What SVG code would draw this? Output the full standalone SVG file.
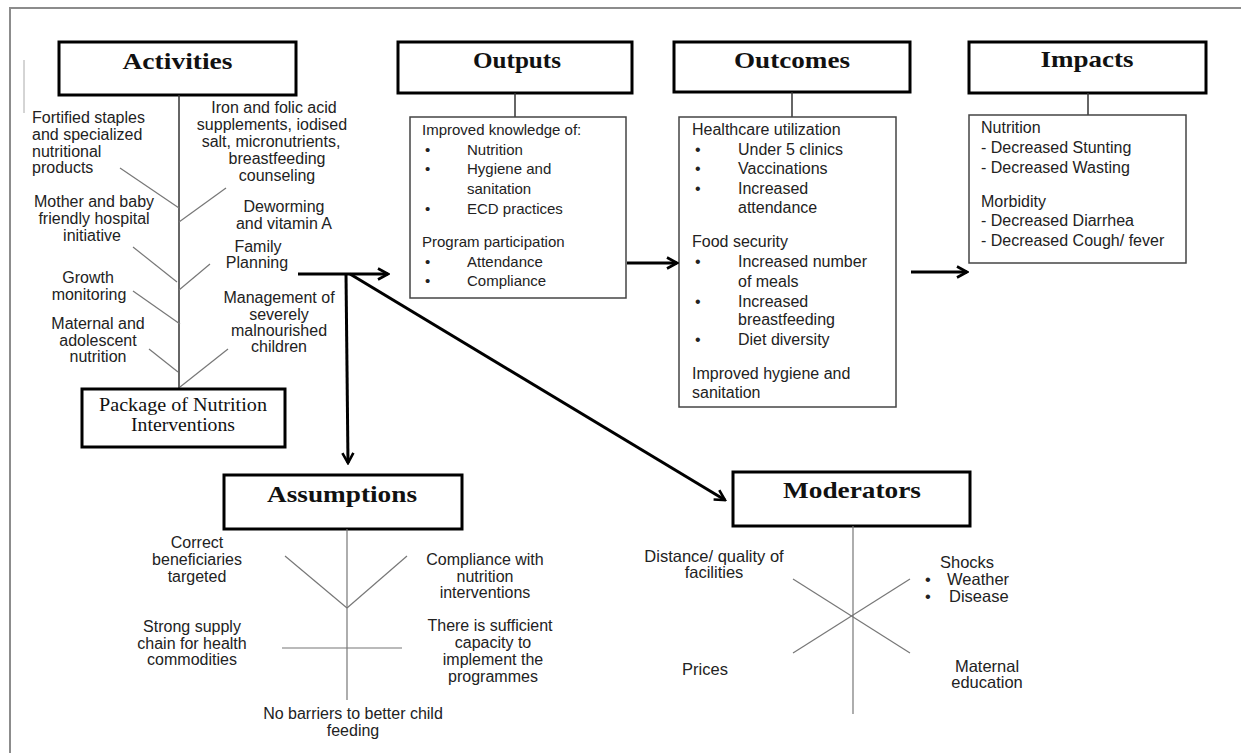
<svg xmlns="http://www.w3.org/2000/svg" width="1241" height="753" viewBox="0 0 1241 753">
<defs>
<style>
.title{font-family:"Liberation Serif","Times New Roman",serif;font-weight:bold;font-size:24px;fill:#111;text-anchor:middle}
.pkg{font-family:"Liberation Serif","Times New Roman",serif;font-size:18px;fill:#111;text-anchor:middle}
.t{font-family:"Liberation Sans",Arial,sans-serif;font-size:16px;fill:#222}
.s15{font-size:15px}
.s165{font-size:16.5px}
.c{text-anchor:middle}
.tbox{fill:#fff;stroke:#000;stroke-width:3}
.cbox{fill:#fff;stroke:#444;stroke-width:1.5}
.stem{stroke:#333;stroke-width:1.5;fill:none}
.br{stroke:#777;stroke-width:1.2;fill:none}
.arrow{stroke:#000;stroke-width:3;fill:none;marker-end:url(#arr)}
</style>
<marker id="arr" viewBox="0 0 14 14" markerWidth="14" markerHeight="14" refX="12" refY="7" orient="auto" markerUnits="userSpaceOnUse">
<path d="M2,1.5 L12,7 L2,12.5" fill="none" stroke="#000" stroke-width="2.6"/>
</marker>
</defs>
<rect width="1241" height="753" fill="#fff"/>
<path d="M10,753 L10,8 L1241,8" fill="none" stroke="#8c8c8c" stroke-width="2"/>
<line x1="24" y1="60" x2="24" y2="113" stroke="#aaa" stroke-width="1"/>

<g id="activities">
<rect class="tbox" x="59" y="42" width="237" height="53"/>
<text class="title" x="177.5" y="69" textLength="110" lengthAdjust="spacingAndGlyphs">Activities</text>
<line class="stem" x1="179" y1="95" x2="179" y2="389"/>
<line class="br" x1="120" y1="168" x2="179" y2="208"/>
<line class="br" x1="226" y1="188" x2="179" y2="222"/>
<line class="br" x1="133" y1="247" x2="177" y2="282"/>
<line class="br" x1="210" y1="264" x2="179" y2="290"/>
<line class="br" x1="133" y1="291" x2="180" y2="324"/>
<line class="br" x1="149" y1="349" x2="178" y2="372"/>
<line class="br" x1="228" y1="349" x2="180" y2="387"/>
<text class="t" x="32" y="123">Fortified staples</text>
<text class="t" x="32" y="140">and specialized</text>
<text class="t" x="32" y="157">nutritional</text>
<text class="t" x="32" y="173">products</text>
<text class="t c" x="94" y="207">Mother and baby</text>
<text class="t c" x="94" y="224">friendly hospital</text>
<text class="t c" x="92" y="241">initiative</text>
<text class="t c" x="88" y="283">Growth</text>
<text class="t c" x="89" y="300">monitoring</text>
<text class="t c" x="98" y="329">Maternal and</text>
<text class="t c" x="98" y="346">adolescent</text>
<text class="t c" x="98" y="362">nutrition</text>
<text class="t c" x="274" y="113">Iron and folic acid</text>
<text class="t c" x="272" y="130">supplements,  iodised</text>
<text class="t c" x="271" y="147">salt, micronutrients,</text>
<text class="t c" x="277" y="164">breastfeeding</text>
<text class="t c" x="277" y="181">counseling</text>
<text class="t c" x="284" y="212">Deworming</text>
<text class="t c" x="284" y="229">and vitamin  A</text>
<text class="t c" x="258" y="252">Family</text>
<text class="t c" x="257" y="268">Planning</text>
<text class="t c" x="279" y="303">Management  of</text>
<text class="t c" x="279" y="320">severely</text>
<text class="t c" x="279" y="336">malnourished</text>
<text class="t c" x="279" y="352">children</text>
</g>

<g id="package">
<rect class="tbox" x="82" y="389" width="203" height="58"/>
<text class="pkg" x="183" y="411" textLength="168" lengthAdjust="spacingAndGlyphs">Package of Nutrition</text>
<text class="pkg" x="183" y="431" textLength="104" lengthAdjust="spacingAndGlyphs">Interventions</text>
</g>

<g id="outputs">
<rect class="tbox" x="398" y="42" width="234" height="51"/>
<text class="title" x="517" y="68" textLength="88" lengthAdjust="spacingAndGlyphs">Outputs</text>
<line class="stem" x1="515" y1="93" x2="515" y2="117"/>
<rect class="cbox" x="410" y="117" width="216" height="181"/>
<text class="t s15" x="422" y="135">Improved knowledge of:</text>
<text class="t s15" x="425" y="155">•</text><text class="t s15" x="467" y="155">Nutrition</text>
<text class="t s15" x="425" y="174">•</text><text class="t s15" x="467" y="174">Hygiene and</text>
<text class="t s15" x="467" y="194">sanitation</text>
<text class="t s15" x="425" y="214">•</text><text class="t s15" x="467" y="214">ECD practices</text>
<text class="t s15" x="422" y="247">Program participation</text>
<text class="t s15" x="425" y="267">•</text><text class="t s15" x="467" y="267">Attendance</text>
<text class="t s15" x="425" y="286">•</text><text class="t s15" x="467" y="286">Compliance</text>
</g>

<g id="outcomes">
<rect class="tbox" x="674" y="42" width="236" height="50"/>
<text class="title" x="792" y="68" textLength="116" lengthAdjust="spacingAndGlyphs">Outcomes</text>
<line class="stem" x1="792" y1="92" x2="792" y2="117"/>
<rect class="cbox" x="679" y="117" width="217" height="290"/>
<text class="t" x="692" y="135">Healthcare  utilization</text>
<text class="t" x="695" y="155">•</text><text class="t" x="738" y="155">Under 5 clinics</text>
<text class="t" x="695" y="174">•</text><text class="t" x="738" y="174">Vaccinations</text>
<text class="t" x="695" y="194">•</text><text class="t" x="738" y="194">Increased</text>
<text class="t" x="738" y="213">attendance</text>
<text class="t" x="692" y="247">Food security</text>
<text class="t" x="695" y="267">•</text><text class="t" x="738" y="267">Increased number</text>
<text class="t" x="738" y="287">of meals</text>
<text class="t" x="695" y="307">•</text><text class="t" x="738" y="307">Increased</text>
<text class="t" x="738" y="325">breastfeeding</text>
<text class="t" x="695" y="345">•</text><text class="t" x="738" y="345">Diet diversity</text>
<text class="t" x="692" y="379">Improved  hygiene and</text>
<text class="t" x="692" y="398">sanitation</text>
</g>

<g id="impacts">
<rect class="tbox" x="969" y="42" width="237" height="51"/>
<text class="title" x="1087" y="67" textLength="93" lengthAdjust="spacingAndGlyphs">Impacts</text>
<line class="stem" x1="1088" y1="93" x2="1088" y2="115"/>
<rect class="cbox" x="969" y="115" width="217" height="148"/>
<text class="t" x="981" y="133">Nutrition</text>
<text class="t" x="981" y="153">- Decreased Stunting</text>
<text class="t" x="981" y="173">- Decreased Wasting</text>
<text class="t" x="981" y="207">Morbidity</text>
<text class="t" x="981" y="226">- Decreased Diarrhea</text>
<text class="t" x="981" y="246">- Decreased Cough/ fever</text>
</g>

<g id="assumptions">
<rect class="tbox" x="224" y="475" width="238" height="54"/>
<text class="title" x="342" y="502" textLength="150" lengthAdjust="spacingAndGlyphs">Assumptions</text>
<line class="br" x1="347" y1="529" x2="347" y2="700" stroke="#444"/>
<line class="br" x1="285" y1="556" x2="347" y2="608"/>
<line class="br" x1="407" y1="556" x2="347" y2="608"/>
<line class="br" x1="282" y1="648" x2="402" y2="648"/>
<text class="t c" x="197" y="548">Correct</text>
<text class="t c" x="197" y="565">beneficiaries</text>
<text class="t c" x="197" y="582">targeted</text>
<text class="t c" x="485" y="565">Compliance with</text>
<text class="t c" x="485" y="582">nutrition</text>
<text class="t c" x="485" y="598">interventions</text>
<text class="t c" x="192" y="632">Strong supply</text>
<text class="t c" x="192" y="649">chain for health</text>
<text class="t c" x="192" y="665">commodities</text>
<text class="t c" x="490" y="631">There is sufficient</text>
<text class="t c" x="493" y="648">capacity to</text>
<text class="t c" x="493" y="665">implement  the</text>
<text class="t c" x="493" y="682">programmes</text>
<text class="t c" x="353" y="719">No barriers to better child</text>
<text class="t c" x="353" y="736">feeding</text>
</g>

<g id="moderators">
<rect class="tbox" x="733" y="472" width="237" height="54"/>
<text class="title" x="852" y="498" textLength="138" lengthAdjust="spacingAndGlyphs">Moderators</text>
<line class="br" x1="853" y1="526" x2="853" y2="714"/>
<line class="br" x1="793" y1="579" x2="910" y2="653"/>
<line class="br" x1="793" y1="653" x2="910" y2="579"/>
<text class="t s165 c" x="714" y="562">Distance/ quality of</text>
<text class="t s165 c" x="714" y="578">facilities</text>
<text class="t s165" x="940" y="568">Shocks</text>
<text class="t s165" x="925" y="585">•</text><text class="t s165" x="947" y="585">Weather</text>
<text class="t s165" x="925" y="602">•</text><text class="t s165" x="949" y="602">Disease</text>
<text class="t s165 c" x="705" y="675">Prices</text>
<text class="t s165 c" x="987" y="672">Maternal</text>
<text class="t s165 c" x="987" y="688">education</text>
</g>

<g id="connectors">
<path class="arrow" d="M298,274 L388,274"/>
<path class="arrow" d="M627,263 L677,263"/>
<path class="arrow" d="M911,272 L967,272"/>
<path class="arrow" d="M346,274 L348,463"/>
<path class="arrow" d="M350,274 L725,500"/>
</g>
</svg>
